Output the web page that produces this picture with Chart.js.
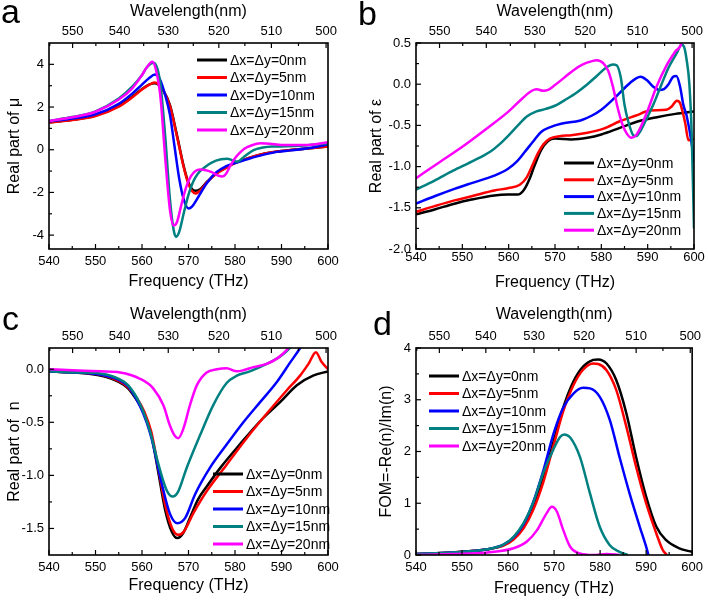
<!DOCTYPE html>
<html>
<head>
<meta charset="utf-8">
<script src="https://cdn.jsdelivr.net/npm/chart.js@4.4.1/dist/chart.umd.min.js"></script>
<style>
  body { margin: 0; background: #fff; }
  .panel { position: absolute; width: 354px; height: 300px; }
</style>
</head>
<body>
<div class="panel" style="left:0;top:0"><canvas id="chartA" width="354" height="300"></canvas></div>
<div class="panel" style="left:354px;top:0"><canvas id="chartB" width="354" height="300"></canvas></div>
<div class="panel" style="left:0;top:300px"><canvas id="chartC" width="354" height="300"></canvas></div>
<div class="panel" style="left:354px;top:300px"><canvas id="chartD" width="354" height="300"></canvas></div>
<script>
// speed of light in nm*THz, for the wavelength axis on top
const C_LIGHT = 299792.458;

const seriesColors = ['#000000', '#ff0000', '#0000ff', '#008080', '#ff00ff'];
const seriesLabels = ['Δx=Δy=0nm', 'Δx=Δy=5nm', 'Δx=Δy=10nm', 'Δx=Δy=15nm', 'Δx=Δy=20nm'];
const muLabels = ['Δx=Δy=0nm', 'Δx=Δy=5nm', 'Δx=Dy=10nm', 'Δx=Δy=15nm', 'Δx=Δy=20nm'];

const freqTicks = [540, 550, 560, 570, 580, 590, 600];
const freqMinor = [545, 555, 565, 575, 585, 595];
const wavelengthTicks = [550, 540, 530, 520, 510, 500];
const wavelengthMinor = [555, 545, 535, 525, 515, 505];

// (a) real part of mu, [THz, value]
const muDx0 = [[540,1.28],[545,1.4],[550,1.6],[555,2.05],[558,2.5],[560,2.85],[561.5,3.05],[562.7,3.12],[563.5,3.05],[564.5,2.8],[566,2.1],[567.5,0.7],[569,-0.8],[570,-1.55],[570.8,-1.85],[571.5,-1.92],[572.5,-1.85],[574,-1.5],[576,-1.1],[578,-0.85],[580,-0.62],[583,-0.38],[586,-0.2],[590,-0.06],[595,0.05],[600,0.15]];
const muDx5 = [[540,1.27],[545,1.39],[550,1.58],[555,2.02],[558,2.47],[560,2.82],[561.5,3.04],[562.7,3.15],[563.5,3.07],[564.5,2.8],[566,2.05],[567.5,0.65],[569,-0.85],[570,-1.6],[570.8,-1.95],[571.5,-2.05],[572.5,-1.92],[574,-1.52],[576,-1.12],[578,-0.86],[580,-0.63],[583,-0.38],[586,-0.2],[590,-0.06],[595,0.05],[600,0.15]];
const muDx10 = [[540,1.32],[545,1.46],[550,1.66],[555,2.15],[558,2.65],[560,3.05],[561.5,3.35],[562.8,3.52],[563.8,3.32],[565,2.55],[566,1.65],[567,0.15],[568,-1.35],[569,-2.35],[570,-2.75],[570.8,-2.65],[572,-2.25],[574,-1.55],[576,-1.05],[578,-0.78],[580,-0.62],[583,-0.42],[586,-0.24],[589,-0.1],[592,-0.03],[596,0.08],[600,0.25]];
const muDx15 = [[540,1.35],[545,1.53],[550,1.8],[555,2.4],[558,2.98],[560,3.5],[561,3.85],[562.5,4.08],[563.3,3.8],[564,3.0],[565,0.6],[566,-2.3],[566.8,-3.75],[567.3,-4.08],[568,-3.85],[569,-2.95],[570,-2.1],[571,-1.5],[572,-1.12],[573.5,-0.82],[575,-0.6],[577,-0.45],[578.3,-0.42],[579.5,-0.5],[580.5,-0.56],[582,-0.32],[584,-0.02],[586,0.1],[588,0.15],[591,0.16],[595,0.2],[600,0.3]];
const muDx20 = [[540,1.35],[545,1.52],[550,1.78],[555,2.35],[558,2.9],[560,3.5],[561,3.85],[562.2,4.12],[563,3.75],[564,2.4],[565,-0.4],[566,-2.8],[566.8,-3.55],[567.5,-3.4],[568.5,-2.55],[569.5,-1.75],[570.5,-1.25],[571.5,-1.0],[572.5,-0.93],[573.5,-0.95],[575,-1.05],[576.5,-1.22],[577.3,-1.25],[578,-1.15],[579,-0.75],[580,-0.4],[581,-0.15],[582,0.05],[583.5,0.2],[585.5,0.3],[587.5,0.28],[590,0.22],[595,0.22],[600,0.35]];

// (b) real part of epsilon
const epsDx0 = [[540,-1.58],[544,-1.52],[548.3,-1.45],[552,-1.4],[556.9,-1.35],[559.8,-1.34],[561.9,-1.34],[563.2,-1.29],[564.5,-1.15],[565.5,-1.0],[567,-0.8],[568.5,-0.69],[570,-0.66],[573.5,-0.67],[577,-0.65],[580,-0.61],[584,-0.53],[588,-0.45],[592,-0.4],[596,-0.36],[600,-0.33]];
const epsDx5 = [[540,-1.55],[544,-1.48],[548.3,-1.41],[552,-1.36],[556.9,-1.29],[560,-1.26],[562.4,-1.22],[563.9,-1.13],[565,-1.0],[566.3,-0.84],[567.5,-0.73],[568.9,-0.66],[571,-0.63],[573.5,-0.62],[577,-0.59],[580.5,-0.54],[584,-0.45],[587.5,-0.38],[590.5,-0.32],[594,-0.31],[595.2,-0.27],[596.3,-0.2],[597,-0.23],[598.1,-0.47],[598.8,-0.68],[600,-0.66]];
const epsDx10 = [[540,-1.45],[544,-1.36],[548.3,-1.27],[552,-1.2],[556.9,-1.11],[559.8,-1.03],[561.9,-0.93],[563.5,-0.82],[565.5,-0.68],[567,-0.58],[569,-0.52],[571.3,-0.48],[575.5,-0.44],[578,-0.38],[580,-0.31],[582.8,-0.17],[585.7,-0.01],[587.5,0.07],[588.5,0.09],[589.8,0.05],[591.2,-0.03],[592.5,-0.07],[593.5,-0.06],[594.5,0.0],[595.5,0.09],[596.2,0.1],[597,-0.03],[597.7,-0.25],[598.4,-0.38],[599.5,-0.72],[600,-0.95]];
const epsDx15 = [[540,-1.28],[544,-1.17],[548,-1.05],[552,-0.94],[556,-0.82],[558,-0.73],[560,-0.62],[562,-0.5],[564,-0.39],[566,-0.33],[568,-0.3],[570.4,-0.25],[572.5,-0.18],[574.7,-0.1],[577,0.0],[579,0.1],[581,0.2],[582.5,0.24],[583.3,0.23],[584.2,0.08],[585,-0.25],[585.8,-0.45],[586.9,-0.62],[587.5,-0.63],[588.3,-0.58],[589.5,-0.45],[591.2,-0.25],[593,0.0],[594.5,0.2],[596.3,0.38],[597.3,0.48],[597.8,0.46],[598.4,0.3],[599,0.0],[599.5,-0.6],[600,-1.75]];
const epsDx20 = [[540,-1.14],[545,-0.95],[550,-0.76],[555,-0.55],[560,-0.33],[563,-0.17],[565,-0.08],[566,-0.06],[567.5,-0.08],[568.5,-0.07],[570,-0.01],[572,0.08],[574,0.17],[576,0.24],[578,0.28],[579,0.29],[580.5,0.25],[581.5,0.16],[582.5,-0.03],[583.5,-0.28],[584.5,-0.48],[585.5,-0.6],[586.5,-0.65],[587.5,-0.62],[588.5,-0.52],[590,-0.32],[592,-0.02],[594,0.22],[596,0.4],[597.3,0.5],[598.5,0.9]];

// (c) real part of n
const nDx0 = [[540,-0.02],[545,-0.03],[551,-0.06],[555,-0.12],[557,-0.18],[559,-0.3],[560.5,-0.42],[562,-0.62],[563.5,-0.97],[565,-1.33],[566.4,-1.53],[567.6,-1.59],[568.9,-1.54],[570.5,-1.38],[572,-1.23],[574,-1.1],[577,-0.92],[581,-0.71],[585.4,-0.49],[589.7,-0.31],[593.3,-0.15],[596.8,-0.06],[600,-0.02]];
const nDx5 = [[540,-0.02],[545,-0.03],[551,-0.05],[555,-0.11],[557,-0.17],[559,-0.28],[560.5,-0.4],[562,-0.59],[563.5,-0.93],[565,-1.28],[566.5,-1.5],[567.8,-1.56],[569,-1.53],[571,-1.36],[573.9,-1.15],[578.2,-0.9],[582.5,-0.65],[586.8,-0.42],[591.1,-0.2],[594,-0.06],[595.8,0.05],[597.4,0.16],[598.6,0.07],[600,0.0]];
const nDx10 = [[540,-0.02],[545,-0.03],[551,-0.05],[555,-0.1],[557,-0.16],[559.6,-0.35],[561,-0.5],[562.1,-0.66],[564.2,-1.07],[566,-1.36],[567.6,-1.45],[569.3,-1.4],[571.4,-1.18],[574.6,-0.93],[578.2,-0.71],[581.8,-0.5],[585.4,-0.31],[589,-0.12],[591.8,0.06],[594,0.2],[595,0.28]];
const nDx15 = [[540,-0.02],[545,-0.03],[551,-0.04],[555,-0.09],[557,-0.15],[559.6,-0.33],[561.7,-0.58],[563.5,-0.89],[565.3,-1.14],[566.6,-1.2],[567.8,-1.15],[569.6,-0.93],[572.5,-0.62],[575.3,-0.34],[578.2,-0.13],[580.4,-0.06],[583.2,-0.02],[586.8,0.05],[589.7,0.12],[591.8,0.2],[593,0.28]];
const nDx20 = [[540,0.0],[545,-0.01],[551,-0.02],[555.3,-0.03],[559.6,-0.09],[562.4,-0.18],[564.6,-0.34],[566,-0.53],[567.1,-0.63],[567.8,-0.65],[568.9,-0.56],[570.3,-0.34],[571.8,-0.15],[573.9,-0.03],[576.1,0.0],[578.2,0.01],[580.4,-0.02],[581.8,-0.01],[584,0.02],[586.8,0.05],[589,0.1],[591.1,0.18],[592,0.24]];

// (d) FOM = -Re(n)/Im(n)
const fomDx0 = [[540,0.02],[548,0.05],[555.5,0.11],[559,0.19],[561.2,0.32],[563.4,0.55],[565.5,0.93],[567.7,1.5],[569.9,2.2],[572,2.85],[574.2,3.35],[576.3,3.64],[578.5,3.77],[579.6,3.78],[581.4,3.7],[583.5,3.38],[585.7,2.74],[587.8,1.9],[590,1.13],[592.2,0.55],[594.3,0.29],[597.2,0.13],[600,0.06]];
const fomDx5 = [[540,0.02],[548,0.05],[555.5,0.11],[559,0.18],[561.2,0.3],[563.4,0.52],[565.5,0.88],[567.7,1.42],[569.9,2.12],[572,2.78],[574.2,3.28],[576.3,3.58],[578.5,3.7],[579.6,3.69],[581.4,3.57],[583.5,3.19],[585.7,2.48],[587.8,1.71],[590,1.0],[592.2,0.42],[593.6,0.1],[594.5,0.0]];
const fomDx10 = [[540,0.02],[548,0.05],[555.5,0.11],[559,0.2],[561.2,0.34],[563.4,0.6],[565.5,1.03],[567.7,1.64],[569.9,2.35],[572,2.85],[574.2,3.12],[576.3,3.23],[577.8,3.22],[579.9,3.06],[582.1,2.61],[584.2,1.9],[586.4,1.19],[588.6,0.55],[590,0.16],[590.5,0.0]];
const fomDx15 = [[540,0.02],[548,0.05],[555.5,0.11],[559,0.2],[561.2,0.35],[563.4,0.62],[565.5,1.02],[567.7,1.6],[569.9,2.05],[571.3,2.28],[572.2,2.33],[573.5,2.27],[575.6,1.9],[577.8,1.19],[579.9,0.55],[582.1,0.19],[584.2,0.06],[586,0.0]];
const fomDx20 = [[540,0.0],[548,0.02],[555.5,0.05],[561.2,0.13],[564.1,0.26],[566.3,0.48],[568.4,0.81],[569.5,0.93],[570.6,0.84],[572,0.48],[573.5,0.16],[575.6,0.03],[578.5,0.0],[581.4,0.02],[584.2,0.0]];

const muTicks = [-4, -2, 0, 2, 4];
const muMinor = [-3, -1, 1, 3];
const epsTicks = [-2, -1.5, -1, -0.5, 0, 0.5];
const epsMinor = [-1.75, -1.25, -0.75, -0.25, 0.25];
const nTicks = [-1.5, -1, -0.5, 0];
const nMinor = [-1.25, -0.75, -0.25];
const fomTicks = [0, 1, 2, 3, 4];
const fomMinor = [0.5, 1.5, 2.5, 3.5];

const FONT = '"Liberation Sans", Arial, Helvetica, sans-serif';
Chart.defaults.font.family = FONT;
Chart.defaults.color = '#000';

// legend, panel letter, plot box, inward tick marks and wavelength labels
const panelDecor = {
  id: 'panelDecor',
  afterDraw(chart) {
    const { ctx } = chart;
    const p = chart.$panel;
    if (!p) return;
    const a = chart.chartArea;
    const sx = chart.scales.x;
    const sy = chart.scales.y;
    const mark = (x1, y1, x2, y2) => {
      ctx.beginPath();
      ctx.moveTo(x1, y1);
      ctx.lineTo(x2, y2);
      ctx.stroke();
    };
    ctx.save();
    ctx.strokeStyle = '#000000';
    ctx.lineWidth = 1.2;
    freqTicks.forEach((v) => { const px = sx.getPixelForValue(v); mark(px, a.bottom, px, a.bottom - 5); });
    freqMinor.forEach((v) => { const px = sx.getPixelForValue(v); mark(px, a.bottom, px, a.bottom - 3); });
    wavelengthTicks.forEach((w) => { const px = sx.getPixelForValue(C_LIGHT / w); mark(px, a.top, px, a.top + 5); });
    wavelengthMinor.forEach((w) => { const px = sx.getPixelForValue(C_LIGHT / w); mark(px, a.top, px, a.top + 3); });
    p.yTicks.forEach((v) => { const py = sy.getPixelForValue(v); mark(a.left, py, a.left + 5, py); });
    p.yMinor.forEach((v) => { const py = sy.getPixelForValue(v); mark(a.left, py, a.left + 3, py); });
    ctx.lineWidth = 1.6;
    ctx.strokeRect(a.left, a.top, a.right - a.left, a.bottom - a.top);

    ctx.fillStyle = '#000';
    ctx.font = '13px ' + FONT;
    ctx.textAlign = 'center';
    ctx.textBaseline = 'middle';
    wavelengthTicks.forEach((w) => {
      ctx.fillText(String(w), sx.getPixelForValue(C_LIGHT / w), a.top - 11.3);
    });

    ctx.textAlign = 'left';
    ctx.font = '14px ' + FONT;
    chart.data.datasets.forEach((ds, i) => {
      const y = p.legend.y + i * p.legend.step;
      ctx.strokeStyle = ds.borderColor;
      ctx.lineWidth = 3;
      mark(p.legend.x, y, p.legend.x + 30, y);
      ctx.fillText(ds.label, p.legend.x + 33, y + 1);
    });
    ctx.font = '34px ' + FONT;
    ctx.textBaseline = 'alphabetic';
    ctx.fillText(p.letter.text, p.letter.x, p.letter.y);
    ctx.restore();
  },
};

function makePanel(id, p) {
  const tickFont = { size: 13 };
  const titleFont = { size: 16 };
  const chart = new Chart(document.getElementById(id), {
    type: 'line',
    data: {
      datasets: p.series.map((pts, i) => ({
        label: p.labels[i],
        data: pts.map(([x, y]) => ({ x, y })),
        borderColor: seriesColors[i],
        backgroundColor: seriesColors[i],
        borderWidth: 2.5,
        pointRadius: 0,
        cubicInterpolationMode: 'monotone',
        order: p.series.length - i,
      })),
    },
    options: {
      responsive: false,
      animation: false,
      layout: { padding: { left: 0, top: 0, bottom: 0, right: p.padRight } },
      plugins: {
        legend: { display: false },
        tooltip: { enabled: false },
      },
      scales: {
        x: {
          type: 'linear',
          position: 'bottom',
          min: 540,
          max: 600,
          afterBuildTicks: (s) => { s.ticks = freqTicks.map((v) => ({ value: v })); },
          afterFit: (s) => { s.height = p.bottomH; },
          grid: { display: false, drawTicks: false },
          border: { display: false },
          ticks: { font: tickFont, padding: p.xTickPad, maxRotation: 0 },
          title: { display: true, text: 'Frequency (THz)', font: titleFont, padding: { top: 0, bottom: p.xTitlePad } },
        },
        xTop: {
          type: 'linear',
          axis: 'x',
          position: 'top',
          min: 540,
          max: 600,
          afterFit: (s) => { s.height = p.topH; },
          grid: { display: false, drawTicks: false },
          border: { display: false },
          ticks: { display: false },
          title: { display: true, text: 'Wavelength(nm)', font: titleFont, padding: { top: p.topTitlePad, bottom: 0 } },
        },
        y: {
          type: 'linear',
          min: p.yMin,
          max: p.yMax,
          afterBuildTicks: (s) => { s.ticks = p.yTicks.map((v) => ({ value: v })); },
          afterFit: (s) => { s.width = p.leftW; },
          grid: { display: false, drawTicks: false },
          border: { display: false },
          ticks: { font: tickFont, padding: 5, callback: p.yFormat },
          title: { display: true, text: p.yTitle, font: titleFont, padding: { top: p.yTitlePad, bottom: 0 } },
        },
      },
    },
    plugins: [panelDecor],
  });
  chart.$panel = p;
  chart.draw();
  return chart;
}

makePanel('chartA', {
  series: [muDx0, muDx5, muDx10, muDx15, muDx20],
  labels: muLabels,
  yMin: -4.65, yMax: 5, yTicks: muTicks, yMinor: muMinor,
  yFormat: (v) => String(v),
  yTitle: 'Real part of μ',
  leftW: 49, padRight: 26, topH: 43, bottomH: 51,
  xTickPad: 5, xTitlePad: 9, topTitlePad: 2, yTitlePad: 5,
  legend: { x: 197, y: 60, step: 17.5 },
  letter: { text: 'a', x: 1, y: 23 },
});

makePanel('chartB', {
  series: [epsDx0, epsDx5, epsDx10, epsDx15, epsDx20],
  labels: seriesLabels,
  yMin: -2, yMax: 0.5, yTicks: epsTicks, yMinor: epsMinor,
  yFormat: (v) => v.toFixed(1),
  yTitle: 'Real part of ε',
  leftW: 62, padRight: 14, topH: 43, bottomH: 51,
  xTickPad: 1, xTitlePad: 8, topTitlePad: 2, yTitlePad: 13,
  legend: { x: 210, y: 163, step: 16.8 },
  letter: { text: 'b', x: 4, y: 25 },
});

makePanel('chartC', {
  series: [nDx0, nDx5, nDx10, nDx15, nDx20],
  labels: seriesLabels,
  yMin: -1.75, yMax: 0.2, yTicks: nTicks, yMinor: nMinor,
  yFormat: (v) => v.toFixed(1),
  yTitle: 'Real part of  n',
  leftW: 49, padRight: 26, topH: 48, bottomH: 45,
  xTickPad: 5, xTitlePad: 5, topTitlePad: 5, yTitlePad: 5,
  legend: { x: 213, y: 174, step: 17.5 },
  letter: { text: 'c', x: 2, y: 30 },
});

makePanel('chartD', {
  series: [fomDx0, fomDx5, fomDx10, fomDx15, fomDx20],
  labels: seriesLabels,
  yMin: 0, yMax: 4, yTicks: fomTicks, yMinor: fomMinor,
  yFormat: (v) => String(v),
  yTitle: 'FOM=-Re(n)/Im(n)',
  leftW: 62, padRight: 14, topH: 48, bottomH: 45,
  xTickPad: 5, xTitlePad: 2, topTitlePad: 5, yTitlePad: 23,
  legend: { x: 75, y: 76, step: 17.5 },
  letter: { text: 'd', x: 19, y: 35 },
});
</script>
</body>
</html>
